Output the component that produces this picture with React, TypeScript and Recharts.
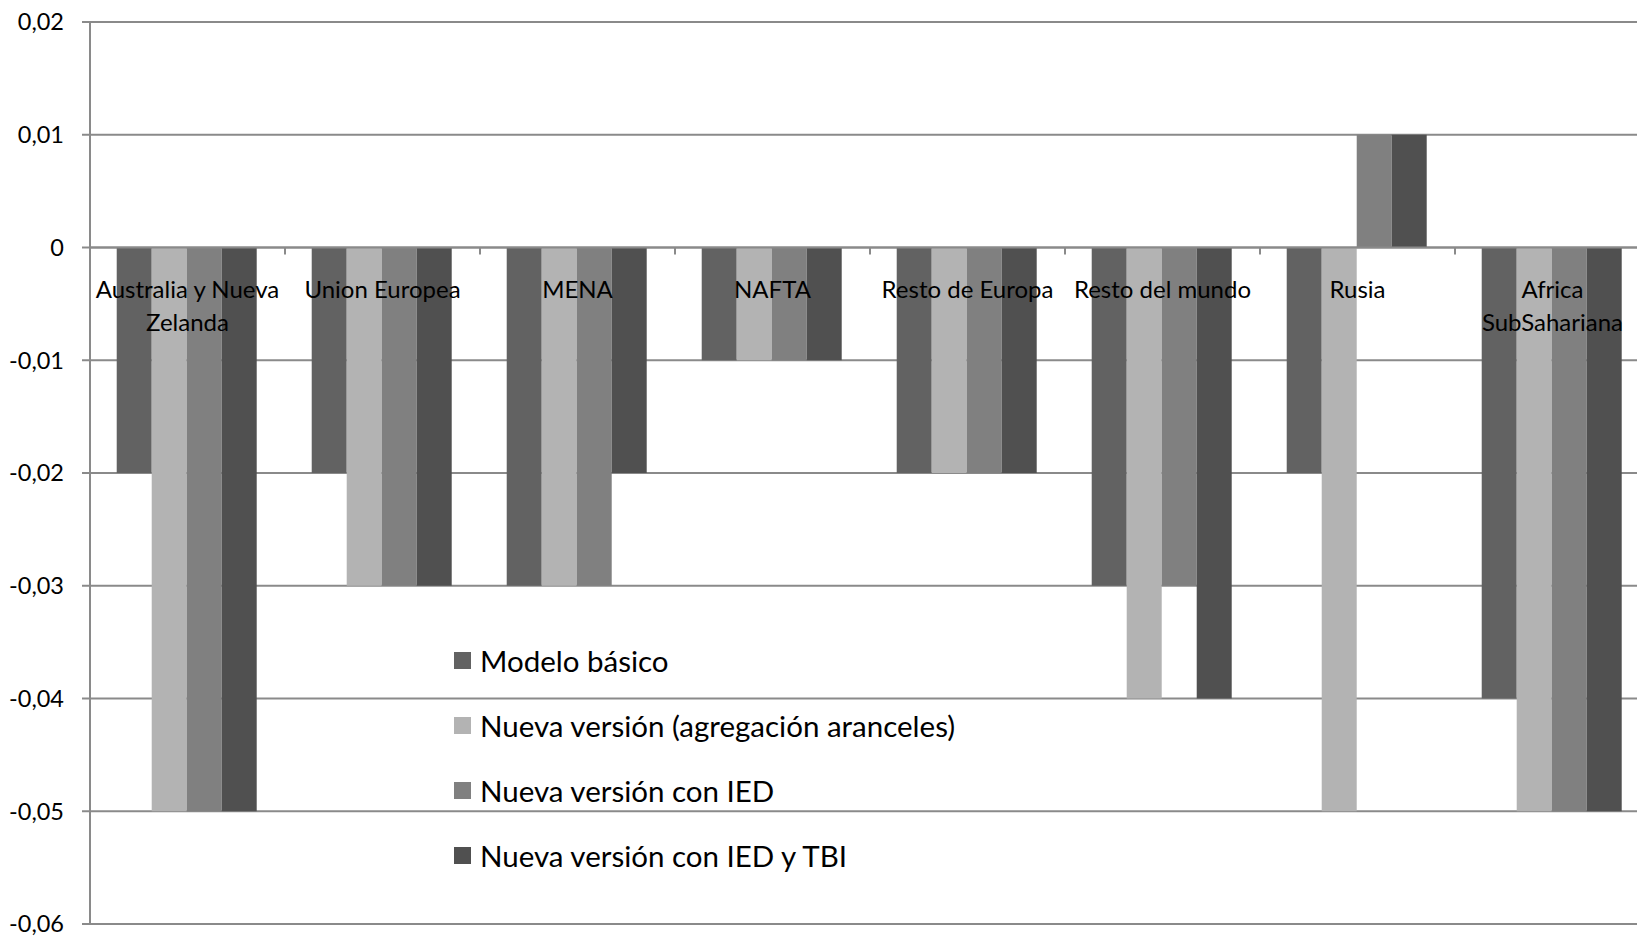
import React from "react";
import { BarChart, Bar, XAxis, YAxis, CartesianGrid, Legend, ReferenceLine } from "recharts";

// regions on the x axis (label lines split the way Excel wrapped them)
const categories = [
  "Australia y Nueva Zelanda",
  "Union Europea",
  "MENA",
  "NAFTA",
  "Resto de Europa",
  "Resto del mundo",
  "Rusia",
  "Africa SubSahariana"
];
const categoryLines = [
  ["Australia y Nueva", "Zelanda"],
  ["Union Europea"],
  ["MENA"],
  ["NAFTA"],
  ["Resto de Europa"],
  ["Resto del mundo"],
  ["Rusia"],
  ["Africa", "SubSahariana"]
];

const modeloBasico = [-0.02, -0.02, -0.03, -0.01, -0.02, -0.03, -0.02, -0.04];
const agregacionAranceles = [-0.05, -0.03, -0.03, -0.01, -0.02, -0.04, -0.05, -0.05];
const conIED = [-0.05, -0.03, -0.03, -0.01, -0.02, -0.03, 0.01, -0.05];
const conIEDyTBI = [-0.05, -0.03, -0.02, -0.01, -0.02, -0.04, 0.01, -0.05];

const yTicks = [0.02, 0.01, 0, -0.01, -0.02, -0.03, -0.04, -0.05, -0.06];

const series = [
  { key: "basico", name: "Modelo básico", color: "#626262" },
  { key: "agregacion", name: "Nueva versión (agregación aranceles)", color: "#b3b3b3" },
  { key: "ied", name: "Nueva versión con IED", color: "#808080" },
  { key: "tbi", name: "Nueva versión con IED y TBI", color: "#505050" }
];

const data = categories.map((c, i) => ({
  region: c,
  basico: modeloBasico[i],
  agregacion: agregacionAranceles[i],
  ied: conIED[i],
  tbi: conIEDyTBI[i]
}));

const FONT = "Lato, 'Open Sans', sans-serif";
const GRID = "#8a8a8a";
const W = 1660;
const H = 937;
const MARGIN = { top: 22, right: 10, bottom: 12, left: 0 };
const Y_AXIS_W = 90;

const fmt = (v: number) => (v === 0 ? "0" : v.toFixed(2).replace(".", ","));

// category labels + boundary ticks hung off the zero line (axis crosses at 0)
const ZeroAxisLabels = (props: any) => {
  const vb = props.viewBox || {};
  const band = vb.width / categories.length;
  return (
    <g>
      {categoryLines.map((lines, i) => {
        const cx = vb.x + band * (i + 0.5);
        const left = vb.x + band * i;
        return (
          <g key={i}>
            {i > 0 && <line x1={left} x2={left} y1={vb.y} y2={vb.y + 7} stroke={GRID} strokeWidth={2} />}
            {lines.map((l, j) => (
              <text
                key={j}
                x={cx}
                y={vb.y + 50 + j * 33}
                textAnchor="middle"
                fontFamily={FONT}
                fontSize={24}
                fill="#000"
              >
                {l}
              </text>
            ))}
          </g>
        );
      })}
    </g>
  );
};

const LegendBox = () => (
  <div style={{ fontFamily: FONT, fontSize: 29.5, color: "#000" }}>
    {series.map((s) => (
      <div key={s.key} style={{ height: 65, display: "flex", alignItems: "center", whiteSpace: "nowrap" }}>
        <span
          style={{ display: "inline-block", width: 17, height: 17, background: s.color, marginRight: 9 }}
        />
        <span>{s.name}</span>
      </div>
    ))}
  </div>
);

const App = () => {
  return (
    <div style={{ position: "absolute", left: 0, top: 0, width: 1637, height: 937, overflow: "hidden", background: "#fff" }}>
      <BarChart
        width={W}
        height={H}
        data={data}
        margin={MARGIN}
        barCategoryGap="13.7%"
        barGap={0}
      >
        <CartesianGrid vertical={false} stroke={GRID} strokeWidth={2} />
        <YAxis
          width={Y_AXIS_W}
          domain={[-0.06, 0.02]}
          ticks={yTicks}
          interval={0}
          tickFormatter={fmt}
          axisLine={{ stroke: GRID, strokeWidth: 2 }}
          tickLine={{ stroke: GRID, strokeWidth: 2 }}
          tickSize={8}
          tickMargin={18}
          tick={{ fontFamily: FONT, fontSize: 23.5, fill: "#000" }}
        />
        <XAxis dataKey="region" height={1} interval={0} axisLine={false} tickLine={false} tick={false} />
        {series.map((s) => (
          <Bar key={s.key} dataKey={s.key} name={s.name} fill={s.color} isAnimationActive={false} />
        ))}
        <ReferenceLine y={0} stroke={GRID} strokeWidth={2} label={<ZeroAxisLabels />} />
        <Legend
          layout="vertical"
          align="center"
          verticalAlign="middle"
          content={<LegendBox />}
          wrapperStyle={{ left: 454, top: 628, width: "auto", height: "auto" }}
        />
      </BarChart>
    </div>
  );
};

export default App;
